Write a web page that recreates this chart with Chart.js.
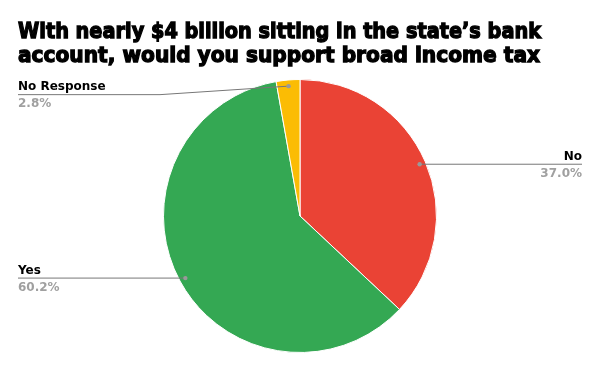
<!DOCTYPE html>
<html>
<head>
<meta charset="utf-8">
<script src="https://cdn.jsdelivr.net/npm/chart.js@4"></script>
<style>
  html,body{margin:0;padding:0;background:#fff;}
  #wrap{width:600px;height:371px;position:relative;}
</style>
</head>
<body>
<div id="wrap"><canvas id="pie"></canvas></div>
<script>
const categories = ['No', 'Yes', 'No Response'];
const values = [37.0, 60.2, 2.8];
const pctLabels = ['37.0%', '60.2%', '2.8%'];
const colors = ['#ea4335', '#34a853', '#fbbc04'];
const titleLines = ['With nearly $4 billion sitting in the state\u2019s bank', 'account, would you support broad income tax'];

// title drawn by hand so the heavy face can be faked with a stroke
const titlePlugin = {
  id:'heavyTitle',
  afterDraw(chart){
    const c = chart.ctx;
    c.save();
    c.fillStyle = '#000'; c.strokeStyle = '#000'; c.lineWidth = 1.3;
    c.font = 'bold 21px "DejaVu Sans"';
    c.textBaseline = 'alphabetic'; c.textAlign = 'left';
    titleLines.forEach((t,i)=>{
      const w = c.measureText(t).width;
      const target = i===0 ? 523 : 522;
      c.save();
      c.translate(18, 38 + i*24);
      c.scale(target/w, 1);
      c.fillText(t, 0, 0); c.strokeText(t, 0, 0);
      c.restore();
    });
    c.restore();
  }
};

// leader lines + labels
const labelPlugin = {
  id:'sideLabels',
  afterDraw(chart){
    const c = chart.ctx;
    const meta = chart.getDatasetMeta(0);
    c.save();
    meta.data.forEach((arc,i)=>{
      const mid = (arc.startAngle + arc.endAngle)/2;
      const r = arc.outerRadius*0.955;
      const dx = arc.x + Math.cos(mid)*r, dy = arc.y + Math.sin(mid)*r;
      const right = Math.cos(mid) > 0;
      const ly = i===2 ? dy + 8.5 : dy;
      const endX = right ? 582 : 18;
      c.strokeStyle = '#777'; c.lineWidth = 1;
      c.beginPath();
      c.moveTo(dx, dy);
      if(i===2){ c.lineTo(160, ly); }
      c.lineTo(endX, ly);
      c.stroke();
      c.fillStyle = '#999';
      c.beginPath(); c.arc(dx, dy, 2.2, 0, Math.PI*2); c.fill();
      c.textAlign = right ? 'right' : 'left';
      c.font = 'bold 12px "DejaVu Sans"';
      c.fillStyle = '#000';
      c.fillText(categories[i], endX, ly - 4.5);
      c.fillStyle = '#a0a0a0';
      c.fillText(pctLabels[i], endX, ly + 12.5);
    });
    c.restore();
  }
};

new Chart(document.getElementById('pie').getContext('2d'), {
  type:'pie',
  data:{labels:categories, datasets:[{data:values, backgroundColor:colors, borderColor:'#fff', borderWidth:1}]},
  options:{
    responsive:true, maintainAspectRatio:false, animation:false,
    layout:{padding:{top:79, bottom:18, left:0, right:0}},
    plugins:{legend:{display:false}, tooltip:{enabled:false}}
  },
  plugins:[titlePlugin, labelPlugin]
});
</script>
</body>
</html>
